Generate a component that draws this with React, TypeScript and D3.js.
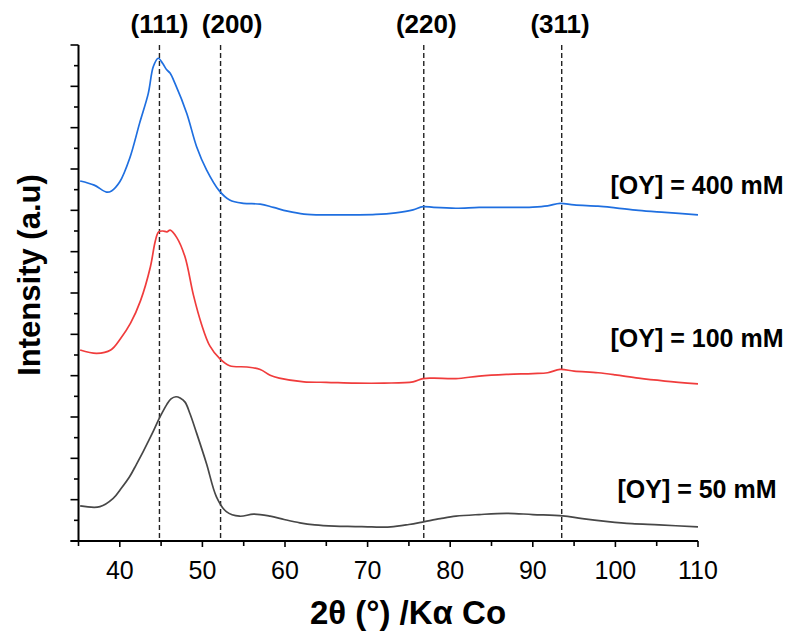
import React from "react";
import * as d3 from "d3";

const WIDTH = 789;
const HEIGHT = 634;

const xTicksMajor = [40, 50, 60, 70, 80, 90, 100, 110];
const xTicksMinor = [35, 45, 55, 65, 75, 85, 95, 105];

const peakPositions = [44.8, 52.2, 76.8, 93.5];
const peakLabels = ["(111)", "(200)", "(220)", "(311)"];
const peakLabelX = [44.8, 53.6, 77.1, 93.3];

const seriesNames = ["[OY] = 400 mM", "[OY] = 100 mM", "[OY] = 50 mM"];
const seriesColors = ["#1f6fe0", "#f03c3c", "#474747"];
const seriesLabelY = [8.4, 4.7, 1.05];

const blueX = [35.2, 36.9, 38.4, 39.0, 40.0, 41.2, 42.4, 43.45, 44.06, 44.66, 45.2, 45.68, 46.08, 46.68, 48.1, 49.3, 50.5, 52.05, 53.3, 54.95, 57.0, 58.6, 60.3, 62.3, 65, 68.5, 71, 73.4, 75.5, 76.7, 78, 80.7, 83.5, 86.8, 90, 91.8, 93.3, 95, 97.9, 100, 102.8, 106, 110];
const blueY = [8.71, 8.61, 8.44, 8.47, 8.69, 9.26, 10.11, 10.83, 11.48, 11.68, 11.55, 11.4, 11.32, 11.07, 10.35, 9.54, 8.98, 8.47, 8.25, 8.17, 8.15, 8.07, 7.98, 7.91, 7.89, 7.89, 7.9, 7.94, 8.01, 8.09, 8.07, 8.05, 8.07, 8.07, 8.08, 8.11, 8.17, 8.13, 8.1, 8.06, 8.0, 7.95, 7.89];

const redX = [35.2, 37.2, 38.9, 40.1, 41.3, 42.5, 43.7, 44.3, 44.7, 45.2, 45.7, 46.1, 46.9, 47.9, 48.9, 49.9, 50.9, 52.1, 53.3, 55.4, 57.0, 58.2, 59.3, 62.3, 65, 68.5, 72, 75.5, 76.7, 78, 80.7, 83.5, 86.8, 90, 91.8, 93.3, 95, 97.9, 100, 102.8, 106, 110];
const redY = [4.62, 4.54, 4.62, 4.9, 5.27, 5.81, 6.63, 7.26, 7.48, 7.5, 7.48, 7.52, 7.34, 6.87, 5.96, 5.24, 4.72, 4.41, 4.24, 4.21, 4.15, 4.01, 3.94, 3.85, 3.84, 3.82, 3.82, 3.85, 3.93, 3.94, 3.93, 3.99, 4.03, 4.05, 4.07, 4.15, 4.11, 4.07, 4.02, 3.94, 3.87, 3.8];

const grayX = [35.2, 37.6, 39.2, 40.2, 41.2, 42.0, 42.8, 43.5, 44.06, 44.66, 45.2, 45.68, 46.2, 46.8, 47.3, 47.9, 48.5, 49.3, 50.5, 51.7, 52.9, 54.5, 56.2, 58.2, 59.9, 61.8, 63.6, 66, 68.5, 70.5, 72.8, 75, 76.9, 78.8, 80.7, 83.5, 86.8, 90, 93.6, 96, 99.1, 102, 105.3, 110];
const grayY = [0.85, 0.83, 1.03, 1.28, 1.56, 1.85, 2.15, 2.43, 2.66, 2.92, 3.13, 3.3, 3.44, 3.49, 3.46, 3.36, 3.08, 2.61, 1.87, 1.07, 0.71, 0.6, 0.65, 0.6, 0.52, 0.44, 0.39, 0.36, 0.35, 0.34, 0.34, 0.4, 0.47, 0.54, 0.6, 0.64, 0.67, 0.64, 0.61, 0.54, 0.47, 0.42, 0.39, 0.34];

const seriesX = [blueX, redX, grayX];
const seriesY = [blueY, redY, grayY];

const FONT = "'Liberation Sans', Arial, sans-serif";

export default function App() {
  const left = 78.5;
  const right = 698;
  const top = 45;
  const bottom = 541;

  const x = d3.scaleLinear().domain([35, 110]).range([left, right]);
  const y = d3.scaleLinear().domain([0, 12]).range([bottom, top]);

  const line = d3
    .line<[number, number]>()
    .x((d) => x(d[0]))
    .y((d) => y(d[1]))
    .curve(d3.curveCatmullRom.alpha(0.5));

  const yMajor = d3.range(0, 12.001, 1);
  const yMinor = d3.range(0.5, 12, 1);

  return (
    <svg
      width={WIDTH}
      height={HEIGHT}
      style={{ position: "absolute", left: 0, top: 0, background: "#fff" }}
      fontFamily={FONT}
    >
      <rect x={0} y={0} width={WIDTH} height={HEIGHT} fill="#fff" />

      {peakPositions.map((p, i) => (
        <line
          key={"pk" + i}
          x1={x(p)}
          x2={x(p)}
          y1={top}
          y2={bottom}
          stroke="#222"
          strokeWidth={1.4}
          strokeDasharray="5,3"
        />
      ))}

      {seriesX.map((xs, i) => (
        <path
          key={"s" + i}
          d={line(xs.map((v, j) => [v, seriesY[i][j]] as [number, number])) || ""}
          fill="none"
          stroke={seriesColors[i]}
          strokeWidth={1.7}
          strokeLinejoin="round"
        />
      ))}

      {/* Y axis */}
      <line x1={left} x2={left} y1={top} y2={bottom} stroke="#000" strokeWidth={2} />
      {yMajor.map((t) => (
        <line key={"ym" + t} x1={left - 8} x2={left} y1={y(t)} y2={y(t)} stroke="#000" strokeWidth={1.6} />
      ))}
      {yMinor.map((t) => (
        <line key={"yn" + t} x1={left - 4.5} x2={left} y1={y(t)} y2={y(t)} stroke="#000" strokeWidth={1.6} />
      ))}

      {/* X axis */}
      <line x1={left - 8} x2={right} y1={bottom} y2={bottom} stroke="#000" strokeWidth={2} />
      {xTicksMajor.map((t) => (
        <g key={"xm" + t}>
          <line x1={x(t)} x2={x(t)} y1={bottom} y2={bottom + 6} stroke="#000" strokeWidth={1.6} />
          <text x={x(t)} y={579} textAnchor="middle" fontSize={25} fill="#000">
            {t}
          </text>
        </g>
      ))}
      {xTicksMinor.map((t) => (
        <line key={"xn" + t} x1={x(t)} x2={x(t)} y1={bottom} y2={bottom + 5} stroke="#000" strokeWidth={1.6} />
      ))}

      {/* peak labels */}
      {peakLabels.map((l, i) => (
        <text
          key={"pl" + i}
          x={x(peakLabelX[i])}
          y={33}
          textAnchor="middle"
          fontSize={26}
          fontWeight="bold"
          fill="#000"
        >
          {l}
        </text>
      ))}

      {/* series labels */}
      {seriesNames.map((n, i) => (
        <text
          key={"sl" + i}
          x={697}
          y={y(seriesLabelY[i])}
          textAnchor="middle"
          fontSize={25}
          fontWeight="bold"
          fill="#000"
        >
          {n}
        </text>
      ))}

      {/* axis titles */}
      <text x={408} y={624} textAnchor="middle" fontSize={33} fontWeight="bold" fill="#000">
        2θ (°) /Kα Co
      </text>
      <text
        transform={`translate(40, 275) rotate(-90)`}
        textAnchor="middle"
        fontSize={31}
        fontWeight="bold"
        fill="#000"
      >
        Intensity (a.u)
      </text>
    </svg>
  );
}
